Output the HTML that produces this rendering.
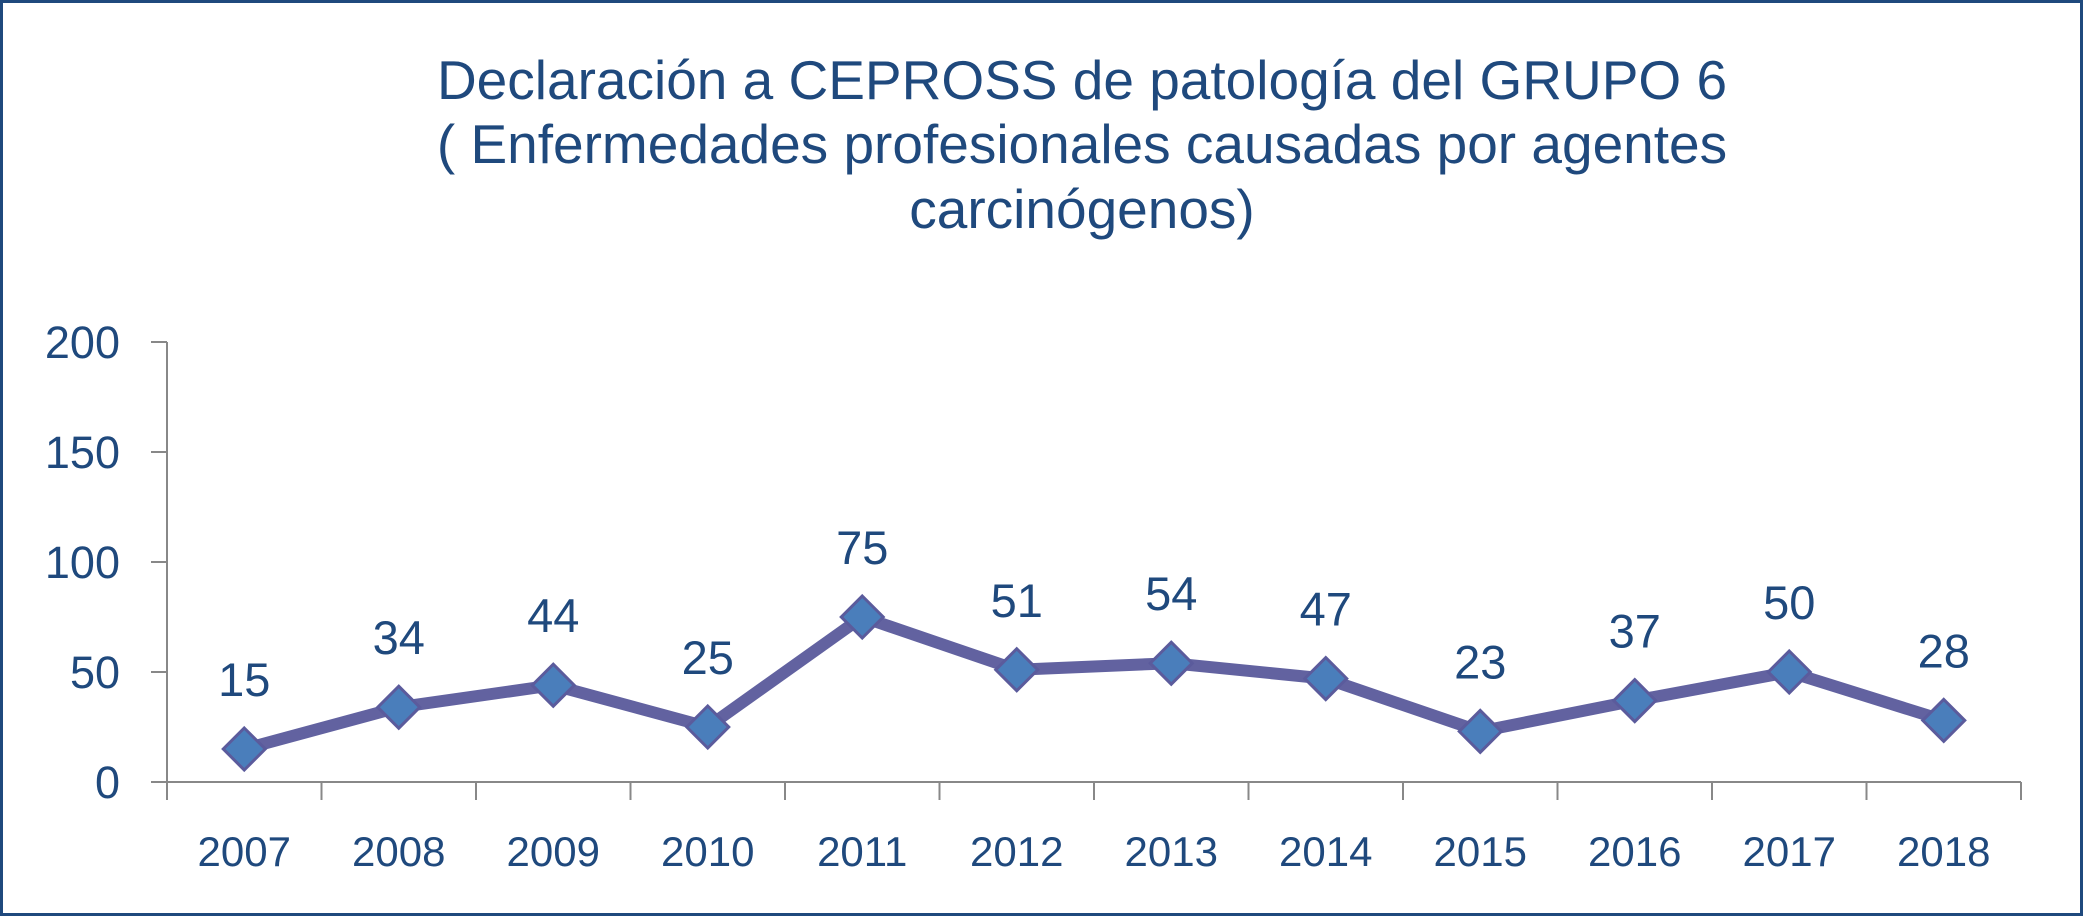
<!DOCTYPE html>
<html><head><meta charset="utf-8"><style>
html,body{margin:0;padding:0;background:#fff}
svg{display:block}
text{font-family:"Liberation Sans",sans-serif;fill:#1f497d}
</style></head><body>
<svg width="2083" height="916" viewBox="0 0 2083 916">
<rect x="1.5" y="1.5" width="2080" height="913" fill="#fff" stroke="#1f497d" stroke-width="3"/>
<g text-anchor="middle">
<text x="1082" y="99" style="font-size:55px">Declaración a CEPROSS de patología del GRUPO 6</text>
<text x="1082" y="163" style="font-size:55px">( Enfermedades profesionales causadas por agentes</text>
<text x="1082" y="228" style="font-size:55px">carcinógenos)</text>
</g>
<g id="axes"></g>
<g id="series"></g>
</svg>
<script>
const categories=["2007","2008","2009","2010","2011","2012","2013","2014","2015","2016","2017","2018"];
const values=[15,34,44,25,75,51,54,47,23,37,50,28];
const yTicks=[0,50,100,150,200];
const NS="http://www.w3.org/2000/svg";
const x0=167,x1=2021,y0=782,y200=342;
const band=(x1-x0)/categories.length;
function xs(i){return x0+band*(i+0.5);}
function ys(v){return y0-(v/200)*(y0-y200);}
function mk(tag,attrs,parent){const e=document.createElementNS(NS,tag);for(const k in attrs)e.setAttribute(k,attrs[k]);parent.appendChild(e);return e;}
const axes=document.getElementById('axes'),series=document.getElementById('series');
let yl=mk('line',{x1:x0,y1:y200,x2:x0,y2:y0,stroke:'#888','stroke-width':2},axes);


let xl=mk('line',{x1:x0,y1:y0,x2:x1,y2:y0,stroke:'#888','stroke-width':2},axes);


yTicks.forEach(v=>{
  const y=ys(v);
  const t=mk('line',{x1:x0-16,y1:y,x2:x0,y2:y,stroke:'#888','stroke-width':2},axes);
  
  
  const l=mk('text',{x:120,y:y+16,'text-anchor':'end','font-size':45},axes);
  l.textContent=v;
  
  
});
for(let i=0;i<=categories.length;i++){
  const x=x0+band*i;
  const t=mk('line',{x1:x,y1:y0,x2:x,y2:y0+18,stroke:'#888','stroke-width':2},axes);
  
  
}
categories.forEach((c,i)=>{
  const l=mk('text',{x:xs(i),y:866,'text-anchor':'middle','font-size':42},axes);
  l.textContent=c;
  
  
});
const pts=values.map((v,i)=>xs(i)+','+ys(v)).join(' ');
const pl=mk('polyline',{points:pts,fill:'none',stroke:'#6262a0','stroke-width':12,'stroke-linejoin':'round'},series);


values.forEach((v,i)=>{
  const x=xs(i),y=ys(v),r=21;
  const d=mk('polygon',{points:`${x},${y-r} ${x+r},${y} ${x},${y+r} ${x-r},${y}`,fill:'#4a7ebb',stroke:'#5b5b9c','stroke-width':3},series);
  
  
  const l=mk('text',{x:x,y:y-53,'text-anchor':'middle','font-size':47},series);
  l.textContent=v;
  
  
});
</script>
</body></html>
